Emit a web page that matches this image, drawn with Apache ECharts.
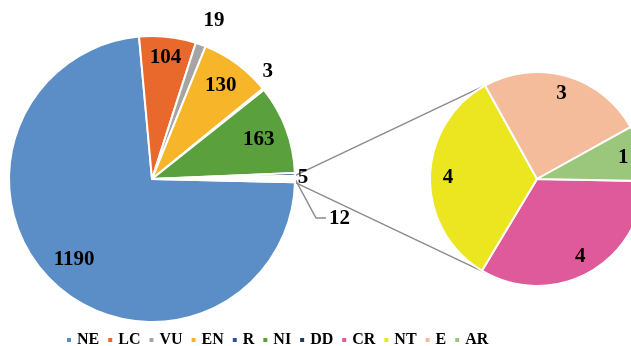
<!DOCTYPE html>
<html>
<head>
<meta charset="utf-8">
<script src="https://cdn.jsdelivr.net/npm/echarts@6/dist/echarts.min.js"></script>
<style>
html, body { margin: 0; padding: 0; background: #fff; }
#chart { width: 631px; height: 346px; }
</style>
</head>
<body>
<div id="chart"></div>
<script>
// main pie
const mainNames = ['NE', 'LC', 'VU', 'EN', 'R', 'NI', 'DD']
const mainValues = [1190, 104, 19, 130, 3, 163, 5]
// secondary pie (the "other" slice of the main pie)
const subNames = ['CR', 'NT', 'E', 'AR']
const subValues = [4, 4, 3, 1]

const mainColors = ['#5b8dc6', '#e8692b', '#a5a5a5', '#f7b52a', '#2f5597', '#5aa03c', '#1f3864']
const subColors = ['#df5a9b', '#ece620', '#f4bc9b', '#9ac77b']

// layout
const FONT = "'Liberation Serif', 'Times New Roman', serif"
const c1 = [152, 179], r1 = 143
const c2 = [537, 179], r2 = 107
const subStart = -1
const joinAngle = 119
// label anchor for each main slice: [distance from centre, angle nudge]
const mainLabelPos = [[112, -1], [122, 0], [170, -1.5], [116, 0], [158, 4], [114, 0], [151, -1.5]]
const subLabelDist = 89

const sum = arr => arr.reduce((a, b) => a + b, 0)
const otherValue = sum(subValues)
const allMain = mainValues.concat([otherValue])
const mainTotal = sum(allMain)
const otherDeg = otherValue / mainTotal * 360
const mainStart = -otherDeg / 2

const midAngles = (values, start) => {
    const total = sum(values)
    let a = start
    return values.map(v => {
        const d = v / total * 360
        const m = a - d / 2
        a -= d
        return m
    })
}
const mainMid = midAngles(allMain, mainStart)
const subMid = midAngles(subValues, subStart)
const rad = d => d * Math.PI / 180
const polar = (c, r, deg) => [c[0] + r * Math.cos(rad(deg)), c[1] - r * Math.sin(rad(deg))]

const labelStyle = {
    color: '#000',
    fontFamily: FONT,
    fontWeight: 'bold',
    fontSize: 21,
}

const mainData = mainNames.map((n, i) => ({
    name: n,
    value: mainValues[i],
    itemStyle: { color: mainColors[i] },
}))
mainData.push({
    name: 'Other',
    value: otherValue,
    itemStyle: { color: '#ffffff' },
    labelLine: { show: true },
})

const subData = subNames.map((n, i) => ({
    name: n,
    value: subValues[i],
    itemStyle: { color: subColors[i] },
}))

// connector lines from the "other" slice to the secondary pie
const p1 = polar(c1, r1, otherDeg / 2)
const p2 = polar(c1, r1, -otherDeg / 2)
const q1 = polar(c2, r2, joinAngle)
const q2 = polar(c2, r2, -joinAngle)

const chart = echarts.init(document.getElementById('chart'))
chart.setOption({
    backgroundColor: '#fff',
    animation: false,
    legend: {
        data: mainNames.concat(subNames),
        left: 60,
        top: 327,
        icon: 'rect',
        itemWidth: 6,
        itemHeight: 6,
        itemGap: 7,
        selectedMode: false,
        textStyle: { color: '#000', fontFamily: FONT, fontWeight: 'bold', fontSize: 16 },
    },
    graphic: [
        { type: 'line', z: -1, shape: { x1: p1[0], y1: p1[1], x2: q1[0], y2: q1[1] }, style: { stroke: '#8c8c8c', lineWidth: 1.5 } },
        { type: 'line', z: -1, shape: { x1: p2[0], y1: p2[1], x2: q2[0], y2: q2[1] }, style: { stroke: '#8c8c8c', lineWidth: 1.5 } },
    ],
    series: [
        {
            type: 'pie',
            center: c1,
            radius: r1,
            startAngle: mainStart,
            avoidLabelOverlap: false,
            itemStyle: { borderColor: '#fff', borderWidth: 2 },
            emphasis: { disabled: true },
            label: Object.assign({ show: true, position: 'outside', formatter: '{c}' }, labelStyle),
            labelLine: { show: false, lineStyle: { color: '#8c8c8c', width: 1.5 } },
            labelLayout: params => {
                const i = params.dataIndex
                if (i === mainNames.length) {
                    const a = polar(c1, r1, mainMid[i])
                    const b = [a[0] + 21, a[1] + 39]
                    const e = [b[0] + 10, b[1]]
                    return { x: e[0] + 3, y: e[1] + 1, align: 'left', verticalAlign: 'middle', labelLinePoints: [a, b, e] }
                }
                const p = polar(c1, mainLabelPos[i][0], mainMid[i] + mainLabelPos[i][1])
                return { x: p[0], y: p[1], align: 'center', verticalAlign: 'middle' }
            },
            data: mainData,
        },
        {
            type: 'pie',
            center: c2,
            radius: r2,
            startAngle: subStart,
            avoidLabelOverlap: false,
            itemStyle: { borderColor: '#fff', borderWidth: 2 },
            emphasis: { disabled: true },
            label: Object.assign({ show: true, position: 'inside', formatter: '{c}' }, labelStyle),
            labelLayout: params => {
                const p = polar(c2, subLabelDist, subMid[params.dataIndex])
                return { x: p[0], y: p[1], align: 'center', verticalAlign: 'middle' }
            },
            data: subData,
        },
    ],
})
</script>
</body>
</html>
